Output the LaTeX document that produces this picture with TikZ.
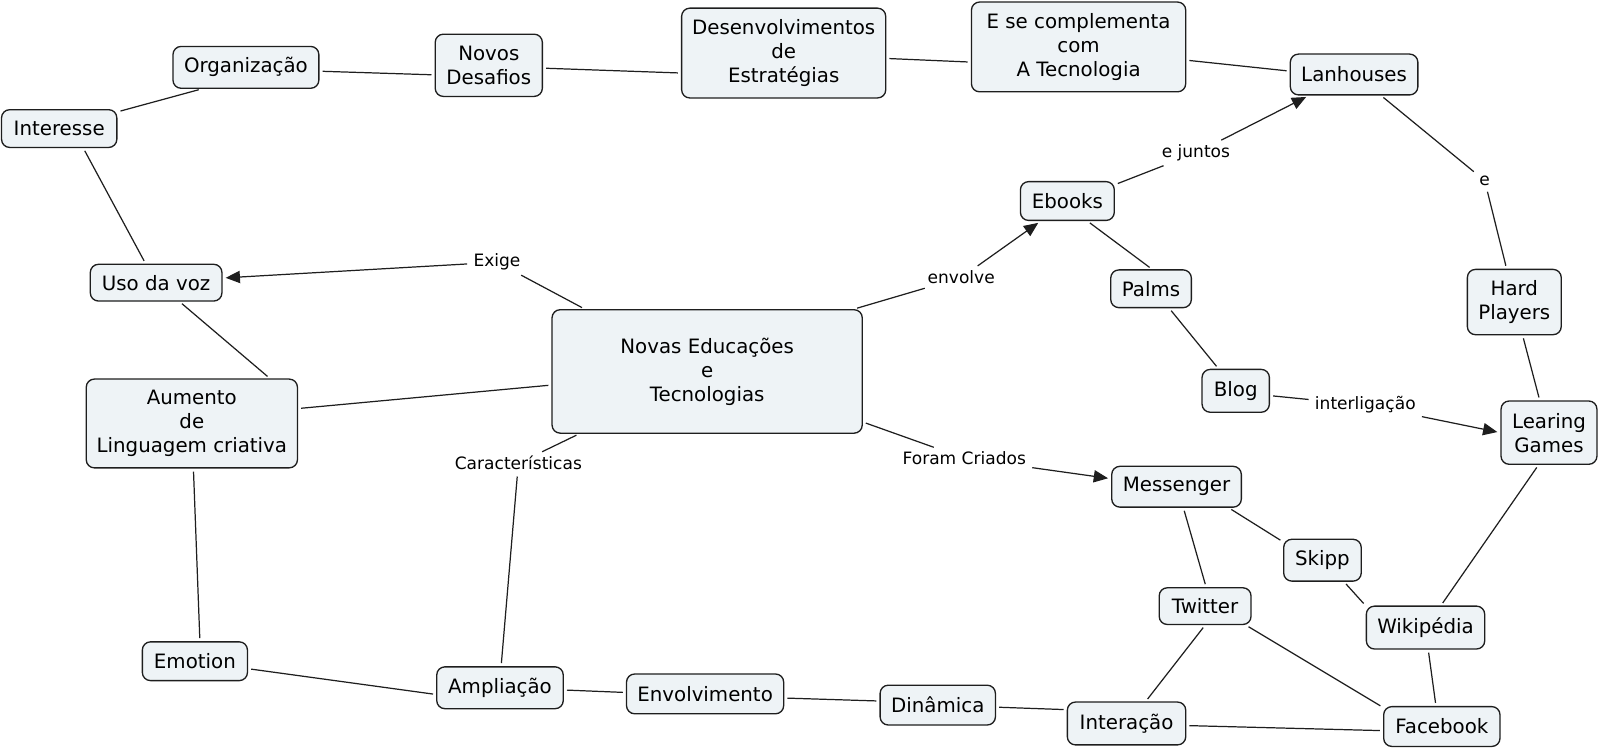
\documentclass[tikz,border=0pt]{standalone}
\usepackage{fontspec}
\setmainfont{DejaVu Sans}
\usetikzlibrary{arrows.meta}
\definecolor{boxfill}{RGB}{238,243,246}
\definecolor{boxline}{RGB}{30,30,30}
\begin{document}
\begin{tikzpicture}[x=1pt,y=-1pt,
  concept/.style={draw=boxline, fill=boxfill, line width=1.3pt, rounded corners=8pt, align=center, inner sep=2pt, font=\fontsize{19.4}{23.5}\selectfont},
  lbl/.style={inner sep=3pt, font=\fontsize{16.7}{19}\selectfont},
  link/.style={line width=1.2pt, draw=boxline, shorten <=3pt, shorten >=3pt},
  arr/.style={link, -{Triangle[length=14pt,width=12pt]}}]
\useasboundingbox (0,0) rectangle (1568,733);
% concepts
\node[concept, minimum width=113pt, minimum height=37pt] (int) at (58,126) {Interesse};
\node[concept, minimum width=143pt, minimum height=41pt] (org) at (241,66) {Organização};
\node[concept, minimum width=105pt, minimum height=61pt] (nov) at (479,64) {Novos\\Desafios};
\node[concept, minimum width=200pt, minimum height=88pt] (des) at (768,52) {Desenvolvimentos\\de\\Estratégias};
\node[concept, minimum width=210pt, minimum height=88pt] (ese) at (1057,46) {E se complementa\\com\\A Tecnologia};
\node[concept, minimum width=125pt, minimum height=40pt] (lan) at (1327,73) {Lanhouses};
\node[concept, minimum width=92pt, minimum height=38pt] (ebo) at (1046,197) {Ebooks};
\node[concept, minimum width=79pt, minimum height=37pt] (pal) at (1128,283) {Palms};
\node[concept, minimum width=66pt, minimum height=42pt] (blo) at (1211,383) {Blog};
\node[concept, minimum width=92pt, minimum height=64pt] (har) at (1484,296) {Hard\\Players};
\node[concept, minimum width=94pt, minimum height=62pt] (lea) at (1518,424) {Learing\\Games};
\node[concept, minimum width=127pt, minimum height=40pt] (mes) at (1153,477) {Messenger};
\node[concept, minimum width=76pt, minimum height=41pt] (ski) at (1296,549) {Skipp};
\node[concept, minimum width=90pt, minimum height=36pt] (twi) at (1181,594) {Twitter};
\node[concept, minimum width=116pt, minimum height=42pt] (wik) at (1397,615) {Wikipédia};
\node[concept, minimum width=114pt, minimum height=39pt] (fac) at (1413,712) {Facebook};
\node[concept, minimum width=116pt, minimum height=42pt] (inr) at (1104,709) {Interação};
\node[concept, minimum width=113pt, minimum height=39pt] (din) at (919,691) {Dinâmica};
\node[concept, minimum width=154pt, minimum height=39pt] (env) at (691,680) {Envolvimento};
\node[concept, minimum width=124pt, minimum height=41pt] (amp) at (490,674) {Ampliação};
\node[concept, minimum width=103pt, minimum height=38pt] (emo) at (191,648) {Emotion};
\node[concept, minimum width=207pt, minimum height=87pt] (aum) at (188,415) {Aumento\\de\\Linguagem criativa};
\node[concept, minimum width=129pt, minimum height=36pt] (uso) at (153,277) {Uso da voz};
\node[concept, minimum width=304pt, minimum height=121pt] (edu) at (693,364) {Novas Educações\\e\\Tecnologias};
% link labels
\node[lbl] (exige) at (487,257) {Exige};
\node[lbl] (envolve) at (942,272) {envolve};
\node[lbl] (juntos) at (1172,150) {e juntos};
\node[lbl] (le) at (1455,177) {e};
\node[lbl] (inter) at (1338,397) {interligação};
\node[lbl] (foram) at (945,449) {Foram Criados};
\node[lbl] (carac) at (508,454) {Características};
% connectors
\draw[link] (int.16) -- (org.206);
\draw[link] (org.-3) -- (nov.190);
\draw[link] (nov.-3) -- (des.191);
\draw[link] (des.-3) -- (ese.188);
\draw[link] (ese.-7) -- (lan.177);
\draw[link] (lan.-38) -- (le);
\draw[link] (le) -- (har.103);
\draw[link] (har.-76) -- (lea.106);
\draw[link] (int.-39) -- (uso.119);
\draw[link] (uso.-39) -- (aum.30);
\draw[link] (edu.153) -- (exige);
\draw[arr] (exige) -- (uso.4);
\draw[link] (edu.23) -- (envolve);
\draw[arr] (envolve) -- (ebo.217);
\draw[link] (ebo.19) -- (juntos);
\draw[arr] (juntos) -- (lan.205);
\draw[link] (ebo.-45) -- (pal.87);
\draw[link] (pal.-47) -- (blo.128);
\draw[link] (blo.-8) -- (inter);
\draw[arr] (inter) -- (lea.180);
\draw[link] (edu.-18) -- (foram);
\draw[arr] (foram) -- (mes.173);
\draw[link] (edu.185) -- (aum.8);
\draw[link] (edu.206) -- (carac);
\draw[link] (carac) -- (amp.87);
\draw[link] (aum.-88) -- (emo.76);
\draw[link] (emo.-8) -- (amp.186);
\draw[link] (amp.-2) -- (env.179);
\draw[link] (env.-3) -- (din.176);
\draw[link] (din.-2) -- (inr.167);
\draw[link] (inr.-2) -- (fac.184);
\draw[link] (inr.49) -- (twi.-90);
\draw[link] (twi.-25) -- (fac.162);
\draw[link] (mes.-72) -- (twi.87);
\draw[link] (mes.-22) -- (ski.155);
\draw[link] (ski.-45) -- (wik.160);
\draw[link] (wik.-83) -- (fac.106);
\draw[link] (wik.55) -- (lea.-108);
\end{tikzpicture}
\end{document}
